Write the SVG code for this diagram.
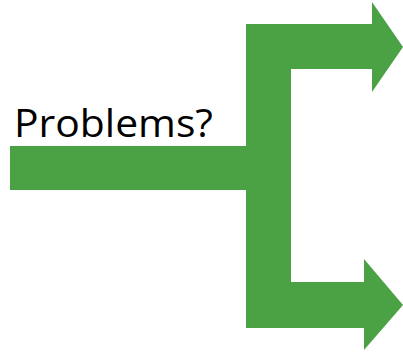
<svg xmlns="http://www.w3.org/2000/svg" width="403" height="354" viewBox="0 0 403 354">
<style>
.g{fill:#4AA245;stroke:none}
.t{font-family:"Open Sans","Noto Sans",sans-serif;font-size:38px;fill:#000}
</style>
<rect width="403" height="354" fill="#fff"/>
<g id="shapes">
<rect class="g" x="10" y="146" width="240" height="44"/>
<rect class="g" x="246" y="24" width="45" height="304"/>
<polygon class="g" points="246,24 372,24 372,2 403,47 372,92 372,69 246,69"/>
<polygon class="g" points="246,282 364,282 364,259 403,305 364,350 364,328 246,328"/>
</g>
<text class="t" x="14" y="137" textLength="199" lengthAdjust="spacingAndGlyphs">Problems?</text>
</svg>
